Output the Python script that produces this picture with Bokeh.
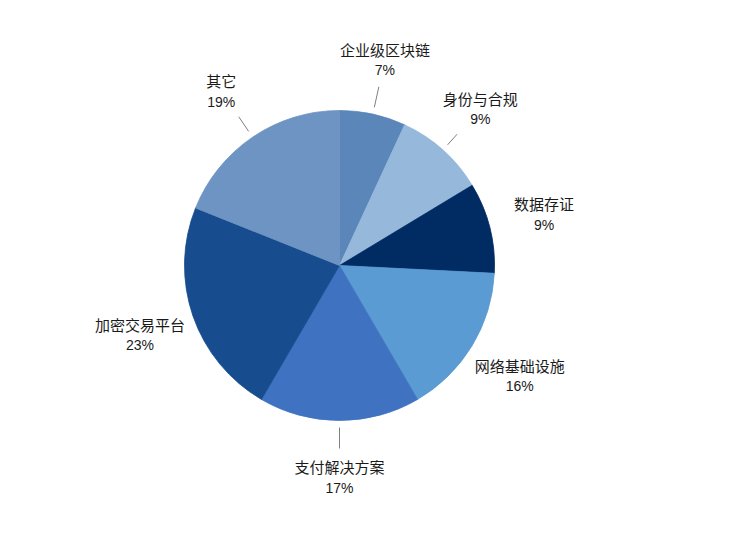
import math
from bokeh.plotting import figure
from bokeh.models import Range1d, ColumnDataSource
from bokeh.core.properties import value
from bokeh.embed import file_html
from bokeh.resources import INLINE

# Data (share of total, percent)
categories = ["企业级区块链", "身份与合规", "数据存证", "网络基础设施", "支付解决方案", "加密交易平台", "其它"]
shares = [6.9, 9.45, 9.45, 15.8, 16.8, 22.65, 18.95]
pct_labels = ["7%", "9%", "9%", "16%", "17%", "23%", "19%"]
colors = ["#5b86b9", "#95b8db", "#002b63", "#5a9bd3", "#3f72c0", "#174c8f", "#6d94c2"]

R = 155
R_LABEL = 211
R_LINE0, R_LINE1 = 162, 183

total = sum(shares)
starts, ends, mids = [], [], []
cum = 0.0
for s in shares:
    a0 = math.pi / 2 - 2 * math.pi * cum / total
    cum += s
    a1 = math.pi / 2 - 2 * math.pi * cum / total
    starts.append(a0)
    ends.append(a1)
    mids.append((a0 + a1) / 2)

src = ColumnDataSource(dict(start=starts, end=ends, color=colors))

p = figure(width=718, height=518, x_range=Range1d(-339, 379), y_range=Range1d(-253, 265),
           output_backend="svg", toolbar_location=None, min_border=0,
           x_axis_location=None, y_axis_location=None)
p.grid.visible = False
p.outline_line_color = None
p.background_fill_color = "white"
p.border_fill_color = "white"

# leader lines
lx0 = [R_LINE0 * math.cos(m) for m in mids]
ly0 = [R_LINE0 * math.sin(m) for m in mids]
lx1 = [R_LINE1 * math.cos(m) for m in mids]
ly1 = [R_LINE1 * math.sin(m) for m in mids]
p.segment(x0=lx0, y0=ly0, x1=lx1, y1=ly1, line_color="#808080", line_width=1)

# label positions (white label boxes hide the covered part of the leaders)
cx = [R_LABEL * math.cos(m) for m in mids]
cy = [R_LABEL * math.sin(m) for m in mids]
bw = [len(c) * 15 + 40 for c in categories]
p.rect(x=cx, y=cy, width=bw, height=52, fill_color="white", line_color=None)

p.wedge(x=0, y=0, radius=R, start_angle="start", end_angle="end", direction="clock",
        fill_color="color", line_color="color", line_width=0.8, source=src)

p.text(x=cx, y=[y + 10 for y in cy], text=categories, text_align="center", text_baseline="middle",
       text_font=value("Noto Sans CJK SC"), text_font_size="15px", text_color="#1a1a1a")
p.text(x=cx, y=[y - 11 for y in cy], text=pct_labels, text_align="center", text_baseline="middle",
       text_font=value("Liberation Sans"), text_font_size="14px", text_color="#1a1a1a")

open("out.html", "w").write(file_html(p, INLINE))
